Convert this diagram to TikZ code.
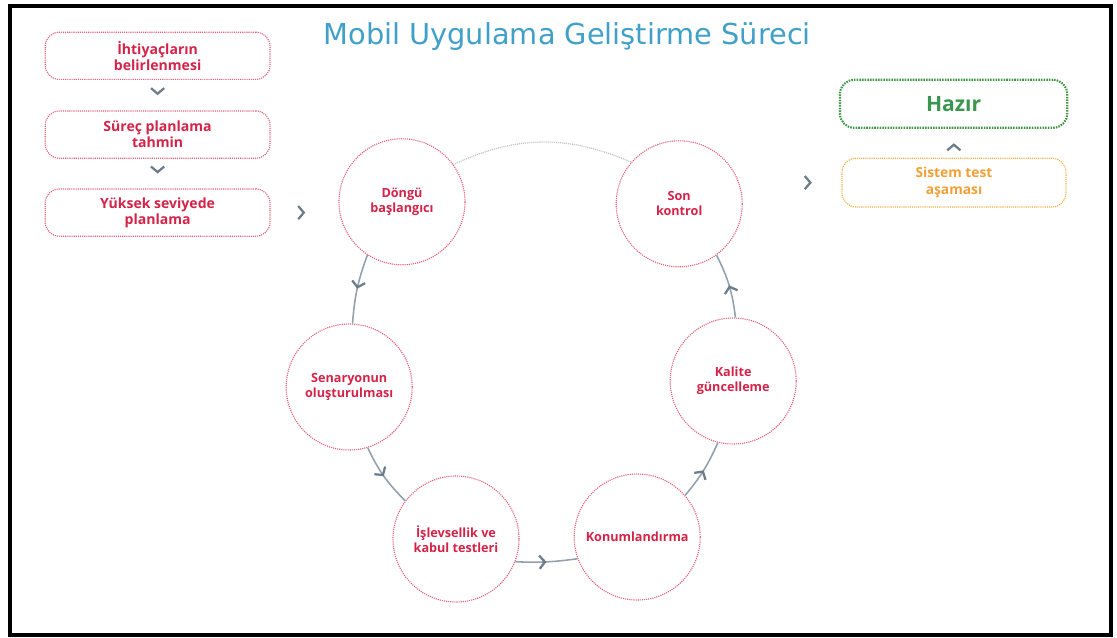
\documentclass[tikz,border=0pt]{standalone}
\usepackage{fontspec}
\setmainfont{Open Sans}
\newfontfamily\titlefont{DejaVu Sans}
\usetikzlibrary{arrows.meta,decorations.markings}
\definecolor{ink}{RGB}{212,35,72}
\definecolor{inkline}{RGB}{226,100,124}
\definecolor{readyink}{RGB}{58,150,78}
\definecolor{readyline}{RGB}{62,150,66}
\definecolor{testink}{RGB}{240,160,55}
\definecolor{testline}{RGB}{242,175,70}
\definecolor{titleblue}{RGB}{64,160,200}
\definecolor{chevgray}{RGB}{108,124,138}
\definecolor{loopgray}{RGB}{145,160,172}
\definecolor{arcgray}{RGB}{190,194,198}

\begin{document}
\begin{tikzpicture}[
  x=1cm,y=1cm,
  font=\fontsize{9}{10.5}\selectfont\bfseries,
  stagetext/.style={text=ink, align=center},
  dotline/.style={line width=0.8pt, dash pattern=on 0.8pt off 0.7pt},
  stagebox/.style={stagetext, draw=inkline, dotline, rounded corners=10pt,
                   font=\fontsize{10}{11.5}\selectfont\bfseries,
                   minimum width=5.62cm, minimum height=1.18cm},
  phase/.style={stagetext, circle, draw=inkline, dotline, minimum size=3.15cm},
  readybox/.style={draw=readyline, line width=1.5pt, dash pattern=on 1.1pt off 0.8pt,
                   rounded corners=10pt, text=readyink,
                   font=\fontsize{15}{18}\selectfont\bfseries,
                   minimum width=5.68cm, minimum height=1.2cm},
  testbox/.style={draw=testline, dotline, rounded corners=10pt, text=testink,
                  align=center, font=\fontsize{9.8}{12.5}\selectfont\bfseries,
                  minimum width=5.6cm, minimum height=1.22cm},
  chevron/.style={postaction={decorate}, decoration={markings,
                  mark=at position #1 with {\arrow[chevgray]
                  {Straight Barb[length=1.4mm,width=3.3mm,line width=1.6pt]}}}},
  chevron/.default=0.5,
  loopline/.style={draw=loopgray, line width=1.1pt, chevron}
]

\useasboundingbox (0,0) rectangle (27.925,15.925);
\draw[line width=1mm] (0.25,0.05) rectangle (27.78,15.78);

\node[font=\titlefont\fontsize{20.5}{24}\selectfont, text=titleblue] (title)
  at (14.18,15.02) {Mobil Uygulama Geliştirme Süreci};

% Planning stages before the cycle.
\node[stagebox] (need) at (3.94,14.53) {İhtiyaçların\\belirlenmesi};
\node[stagebox] (estimate) at (3.94,12.56) {Süreç planlama\\tahmin};
\node[stagebox] (plan) at (3.94,10.61) {Yüksek seviyede\\planlama};
\path[chevron] (need) -- (estimate);
\path[chevron] (estimate) -- (plan);
\path[chevron] (plan.east) -- (plan.east -| 8.50,0);

% The development cycle.
\node[phase] (start) at (10.05,10.88) {Döngü\\başlangıcı};
\node[phase] (scenario) at (8.73,6.25) {Senaryonun\\oluşturulması};
\node[phase] (accept) at (11.40,2.45) {İşlevsellik ve\\kabul testleri};
\node[phase] (locate) at (15.93,2.50) {Konumlandırma};
\node[phase] (quality) at (18.33,6.40) {Kalite\\güncelleme};
\node[phase] (final) at (16.98,10.83) {Son\\kontrol};

\draw[loopline] (start.237) to[bend right=8] (scenario.87);
\draw[loopline] (scenario.287) to[bend right=10] (accept.143);
\draw[loopline] (accept.339) to[bend right=5] (locate.200);
\draw[loopline] (locate.41) to[bend right=8] (quality.256);
\draw[loopline] (quality.88) to[bend right=10] (final.306);
\draw[arcgray, line width=0.9pt, dash pattern=on 0.7pt off 0.7pt]
  (start.36) to[bend left=24] (final.139);

% Release steps on the right.
\node[readybox] (ready) at (23.84,13.33) {Hazır};
\node[testbox] (systest) at (23.85,11.36) {Sistem test\\aşaması};
\path[chevron] (systest) -- (ready);
\path[chevron=0.7] (systest.west -| final.east) -- (systest.west);

\end{tikzpicture}
\end{document}
